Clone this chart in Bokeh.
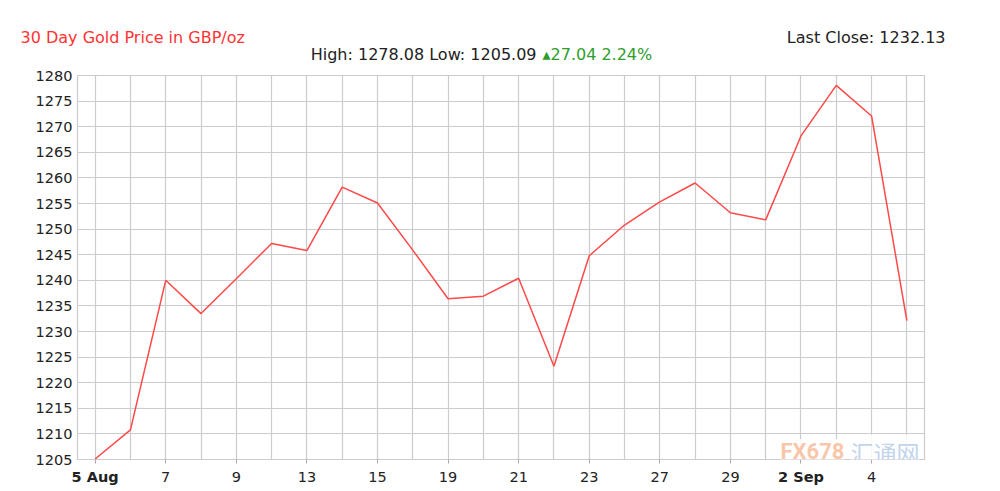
from bokeh.plotting import figure
from bokeh.models import FixedTicker, Range1d, Label
from bokeh.layouts import column
from bokeh.core.properties import value
from bokeh.embed import file_html
from bokeh.resources import INLINE

# ---- data ----
dates = ["5 Aug", "6", "7", "8", "9", "12", "13", "14", "15", "16", "19", "20",
         "21", "22", "23", "26", "27", "28", "29", "30", "2 Sep", "3", "4", "5"]
prices = [1205.09, 1210.8, 1240.0, 1233.5, 1240.3, 1247.2, 1245.8, 1258.2,
          1255.1, 1245.9, 1236.4, 1236.9, 1240.4, 1223.2, 1244.8, 1250.8,
          1255.3, 1259.0, 1253.2, 1251.8, 1268.2, 1278.08, 1272.1, 1232.13]
bold_labels = ["5 Aug", "2 Sep"]
y_ticks = list(range(1205, 1281, 5))

title_text = "30 Day Gold Price in GBP/oz"
stats_text = "High: 1278.08 Low: 1205.09"
change_text = "\u25B427.04 2.24%"
close_text = "Last Close: 1232.13"
wm_latin = "FX678"
wm_cjk = "汇通网"

FONT = "DejaVu Sans"
GRID = "#cccccc"
TXT = "#222222"
W = 1000
HEAD_H, MAIN_H = 66, 402
FOOT_H = 491 - HEAD_H - MAIN_H
BL, BR, BT, BB = 77, 76, 9, 9

xs = list(range(len(dates)))
label_pos = [i for i in xs if i % 2 == 0]


def blank(fig):
    fig.axis.visible = False
    fig.grid.visible = False
    fig.outline_line_color = None
    fig.background_fill_color = "white"
    fig.border_fill_color = "white"


def add_label(fig, x, y, text, color, align="left", size="16px", font=FONT,
              alpha=1.0, style="normal", bg=None):
    fig.add_layout(Label(x=x, y=y, x_units="screen", y_units="screen",
                         text=text, text_font=font, text_font_size=size,
                         text_font_style=style, text_color=color,
                         text_alpha=alpha, text_baseline="middle",
                         text_align=align, background_fill_color=bg,
                         background_fill_alpha=0.85))


# ---- header ----
head = figure(width=W, height=HEAD_H, output_backend="svg", toolbar_location=None,
              x_range=Range1d(0, 1), y_range=Range1d(0, 1), min_border=0,
              frame_align=False)
blank(head)
add_label(head, 20, HEAD_H - 37, title_text, "#ff3333")
add_label(head, 945, HEAD_H - 37, close_text, TXT, align="right")
add_label(head, 536, HEAD_H - 54, stats_text, TXT, align="right")
add_label(head, 542, HEAD_H - 54, change_text, "#2e9e2e")

# ---- main chart ----
p = figure(width=W, height=MAIN_H, output_backend="svg", toolbar_location=None,
           x_range=Range1d(-0.5, len(dates) - 0.5),
           y_range=Range1d(min(y_ticks), max(y_ticks)),
           min_border_left=BL, min_border_right=BR, min_border_top=BT,
           min_border_bottom=BB, frame_align=False)
p.background_fill_color = "white"
p.border_fill_color = "white"
p.outline_line_color = GRID
p.outline_line_width = 1.2

p.line(xs, prices, line_color="#ff4848", line_width=1.5)

# x axis: line and ticks only (the date labels are drawn in the footer)
p.xaxis.ticker = FixedTicker(ticks=label_pos)
p.xaxis.axis_line_color = GRID
p.xaxis.major_tick_line_color = "#aaaaaa"
p.xaxis.major_tick_in = 0
p.xaxis.major_tick_out = 4
p.xaxis.minor_tick_line_color = None
p.xaxis.major_label_standoff = 0
p.xaxis.major_label_text_font_size = "0px"
p.xaxis.major_label_text_color = None

p.yaxis.ticker = FixedTicker(ticks=y_ticks)
p.yaxis.axis_line_color = GRID
p.yaxis.major_tick_line_color = None
p.yaxis.major_tick_out = 0
p.yaxis.major_tick_in = 0
p.yaxis.minor_tick_line_color = None
p.yaxis.major_label_standoff = 5
p.yaxis.major_label_text_font = FONT
p.yaxis.major_label_text_font_size = "14.5px"
p.yaxis.major_label_text_color = TXT

p.xgrid.ticker = FixedTicker(ticks=xs)
p.ygrid.ticker = FixedTicker(ticks=y_ticks)
for g in (p.xgrid, p.ygrid):
    g.grid_line_color = GRID
    g.grid_line_width = 1.2

# watermark (inside the frame, bottom right)
add_label(p, 780 - BL, 8, wm_latin, "#f5a070", size="22px", font="Roboto",
          alpha=0.6, style="bold", bg="white")
add_label(p, 850 - BL, 8, wm_cjk, "#9dbbe4", size="23px",
          font="Noto Sans CJK SC", alpha=0.65, bg="white")

# ---- footer: date labels on the same x scale ----
px_per_unit = (W - BL - BR) / len(dates)
foot = figure(width=W, height=FOOT_H, output_backend="svg", toolbar_location=None,
              x_range=Range1d(-0.5 - BL / px_per_unit,
                              len(dates) - 0.5 + BR / px_per_unit),
              y_range=Range1d(-FOOT_H, 0), min_border=0, frame_align=False)
blank(foot)
foot.text(x=label_pos, y=[-8.5] * len(label_pos),
          text=[dates[i] for i in label_pos],
          text_font_style=["bold" if dates[i] in bold_labels else "normal"
                           for i in label_pos],
          text_font=value(FONT), text_font_size="14.5px", text_color=TXT,
          text_align="center", text_baseline="middle")

layout = column(head, p, foot, spacing=0)
open("out.html", "w").write(file_html(layout, INLINE))
